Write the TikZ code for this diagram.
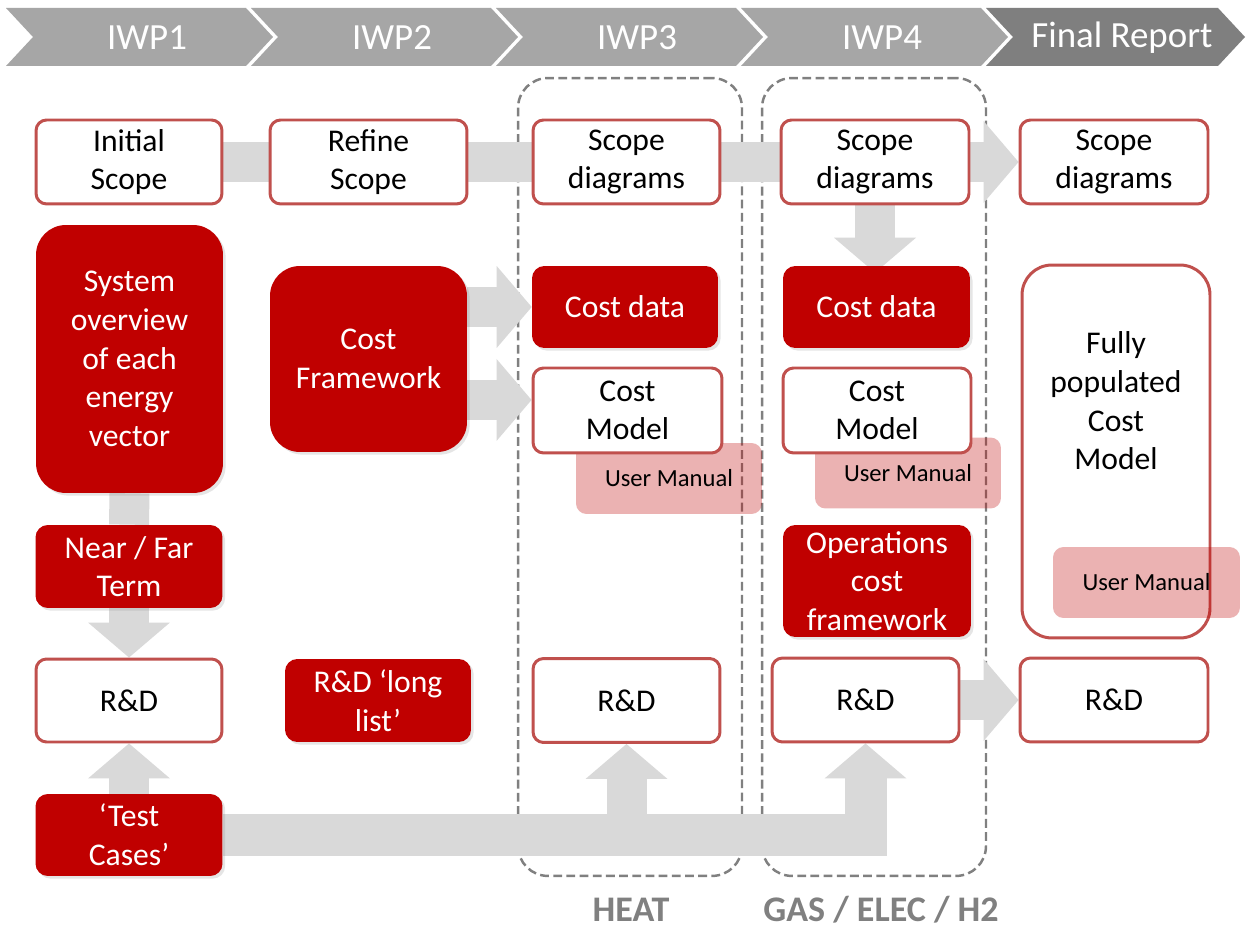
\documentclass[tikz,border=0pt]{standalone}
\usepackage{fontspec}
\setmainfont{Carlito}
\usetikzlibrary{arrows.meta,shadows,positioning}

\definecolor{darkred}{RGB}{192,0,0}
\definecolor{boxred}{RGB}{192,80,77}
\definecolor{bandgray}{RGB}{217,217,217}
\definecolor{hdrgray}{RGB}{166,166,166}
\definecolor{hdrdark}{RGB}{127,127,127}
\definecolor{dashgray}{RGB}{128,128,128}

\pgfdeclarelayer{paper}
\pgfdeclarelayer{groups}
\pgfdeclarelayer{bands}
\pgfsetlayers{paper,groups,bands,main}

\tikzset{
  whitebox/.style={draw=boxred, line width=1.7pt, fill=white, rounded corners=6pt,
    minimum width=3.74cm, minimum height=1.68cm, inner sep=0pt, align=center,
    font=\fontsize{18}{22}\selectfont},
  redbox/.style={fill=darkred, rounded corners=7pt, text=white,
    minimum width=3.74cm, minimum height=1.66cm, inner sep=0pt, align=center,
    font=\fontsize{18}{22}\selectfont,
    drop shadow={shadow xshift=1.5pt, shadow yshift=-1.5pt, opacity=0.2}},
  manualbox/.style={fill=darkred, fill opacity=0.3, text opacity=1, rounded corners=6pt,
    minimum width=3.72cm, minimum height=1.42cm, inner sep=0pt,
    font=\fontsize{14}{17}\selectfont},
  groupbox/.style={draw=dashgray, line width=1.4pt, dash pattern=on 5pt off 2.5pt,
    rounded corners=17pt, minimum width=4.48cm, minimum height=15.96cm},
  grouplabel/.style={text=dashgray, font=\fontsize{20.5}{24}\selectfont\bfseries},
  hdrtext/.style={text=white, font=\fontsize{21}{25}\selectfont},
  fatline/.style={draw=bandgray, line width=0.8cm},
  fatarrow/.style={fatline, -{Triangle[length=0.7cm, width=1.64cm, line width=0pt]}}
}

\begin{document}
\begin{tikzpicture}[x=0.02cm, y=-0.02cm]
  \useasboundingbox (0,0) rectangle (1247,928);
  \begin{pgfonlayer}{paper}
    \fill[white] (0,0) rectangle (1247,928);
  \end{pgfonlayer}

  % header chevrons
  \foreach \i/\lbl in {0/IWP1,1/IWP2,2/IWP3,3/IWP4} {
    \fill[hdrgray] ({6+245*\i},8) -- ++(240,0) -- ++(27,29) -- ++(-27,29)
      -- ++(-240,0) -- ++(27,-29) -- cycle;
    \node[hdrtext] (hdr\i) at ({6+245*\i+141},38) {\lbl};
  }
  \fill[hdrdark] (986,8) -- ++(232,0) -- ++(27,29) -- ++(-27,29)
    -- ++(-232,0) -- ++(27,-29) -- cycle;
  \node[hdrtext] (hdr4) at (1122,38) {Final Report};

  % dashed groups
  \begin{pgfonlayer}{groups}
    \node[groupbox] (heat) at (630,477) {};
    \node[groupbox] (gas) at (874,477) {};
  \end{pgfonlayer}
  \node[grouplabel] (heatlbl) at (631,910) {HEAT};
  \node[grouplabel] (gaslbl) at (881,910) {GAS / ELEC / H2};

  % top row
  \node[whitebox, minimum width=3.72cm] (init) at (129,162) {Initial\\Scope};
  \node[whitebox, minimum width=3.94cm] (refine) at (368.5,162) {Refine\\Scope};
  \node[whitebox] (scope3) at (626.5,162) {Scope\\diagrams};
  \node[whitebox, minimum width=3.76cm] (scope4) at (875,162) {Scope\\diagrams};
  \node[whitebox, minimum width=3.76cm] (scopeF) at (1114,162) {Scope\\diagrams};

  % IWP1 / IWP2 column
  \node[redbox, rounded corners=17pt, minimum height=5.36cm] (sysov) at (129.5,359)
    {System\\overview\\of each\\energy\\vector};
  \node[redbox] (nearfar) at (129,566.5) {Near / Far\\Term};
  \node[whitebox, minimum width=3.72cm, minimum height=1.66cm] (rdA) at (129,700.5) {R\&D};
  \node[redbox, minimum height=1.64cm] (tests) at (129,835) {‘Test\\Cases’};
  \node[redbox, rounded corners=17pt, minimum width=3.94cm, minimum height=3.72cm] (costfw)
    at (368.5,359) {Cost\\Framework};
  \node[redbox, minimum width=3.72cm] (longlist) at (378,700.5) {R\&D ‘long\\list’};

  % heat
  \node[redbox, minimum width=3.72cm, minimum height=1.64cm] (cost3) at (625,307) {Cost data};
  \node[manualbox] (manual3) at (669,478.5) {User Manual};
  \node[whitebox, minimum width=3.78cm, minimum height=1.7cm] (model3) at (627.5,410.5) {Cost\\Model};
  \node[whitebox] (rdH) at (626.5,700.5) {R\&D};

  % gas / elec / h2
  \node[redbox, minimum height=1.64cm] (cost4) at (876.5,307) {Cost data};
  \node[manualbox] (manual4) at (908,473) {User Manual};
  \node[whitebox, minimum width=3.76cm, minimum height=1.7cm] (model4) at (877,410.5) {Cost\\Model};
  \node[redbox, minimum width=3.76cm, minimum height=2.24cm] (ops) at (877,581)
    {Operations\\cost\\framework};
  \node[whitebox] (rdG) at (865.5,700) {R\&D};

  % final report
  \node[draw=boxred, line width=1.7pt, rounded corners=17pt, minimum width=3.76cm,
    minimum height=7.46cm] (full) at (1116,451.5) {};
  \node[align=center, font=\fontsize{18}{22}\selectfont] (fulltext) at (1116,401)
    {Fully\\populated\\Cost\\Model};
  \node[manualbox, minimum width=3.74cm] (manualF) at (1146.5,582.5) {User Manual};
  \node[whitebox, minimum width=3.76cm] (rdF) at (1114,700) {R\&D};

  % grey arrows
  \begin{pgfonlayer}{bands}
    \draw[fatline] (init.east) -- (refine.west);
    \draw[fatline] (refine.east) -- (scope3.west);
    \draw[fatline] (scope3.east) -- (scope4.west);
    \draw[fatarrow] (scope4.east) -- (scopeF.west);
    \draw[fatarrow] (scope4.south) -- ([yshift=-4pt]scope4.south |- cost4.north);
    \draw[fatline] (sysov.south) -- (nearfar.north);
    \draw[fatarrow] (nearfar.south) -- (rdA.north);
    \draw[fatarrow] (tests.north) -- (rdA.south);
    \draw[fatarrow] (costfw.east |- cost3.west) -- (cost3.west);
    \coordinate (m3in) at ([yshift=6pt]model3.west);
    \draw[fatarrow] (costfw.east |- m3in) -- (m3in);
    \draw[fatarrow, line width=0.84cm] (tests.east) -- (rdG.south |- tests.east) -- (rdG.south);
    \draw[fatarrow] (rdH.south |- tests.east) -- (rdH.south);
    \draw[fatarrow] (rdG.east) -- (rdF.west);
  \end{pgfonlayer}
\end{tikzpicture}
\end{document}
